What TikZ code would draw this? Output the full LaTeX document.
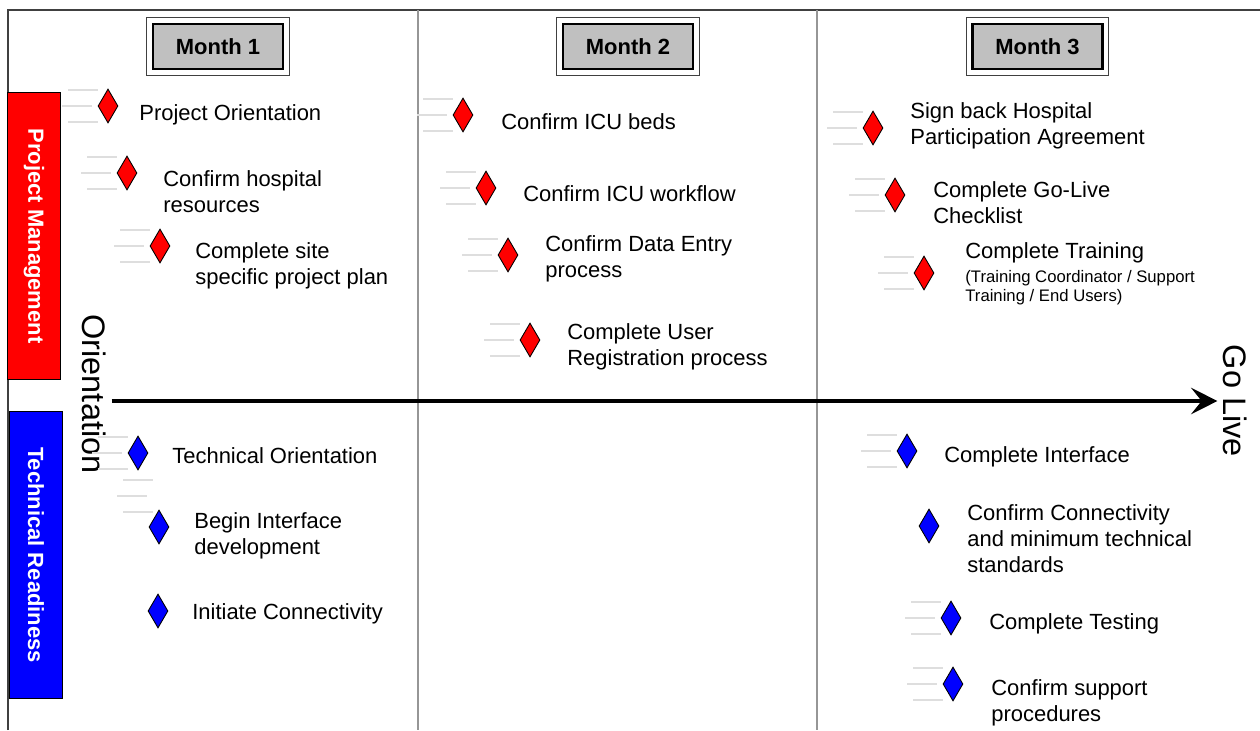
\documentclass[tikz,border=0pt]{standalone}
\usepackage{fontspec}
\setmainfont{Liberation Sans}
\usepackage{tikz}
\usetikzlibrary{arrows.meta,positioning,shapes.geometric}

\definecolor{monthgray}{RGB}{192,192,192}
\definecolor{pmred}{RGB}{255,0,0}
\definecolor{trblue}{RGB}{0,0,255}
\definecolor{framegray}{RGB}{64,64,64}
\definecolor{divgray}{RGB}{150,150,150}
\definecolor{ghostgray}{RGB}{222,222,222}

\begin{document}
\begin{tikzpicture}[x=0.02cm, y=-0.02cm,
  month/.style={
    draw, line width=1.6pt, fill=monthgray,
    minimum width=2.6cm, minimum height=0.9cm,
    font=\fontsize{12.5}{15}\selectfont\bfseries},
  lane/.style={
    draw, fill=#1, rotate=-90, text=white,
    minimum width=5.74cm, minimum height=1.06cm,
    font=\fontsize{12.5}{15}\selectfont\bfseries},
  ms/.style={
    diamond, draw, fill=#1, line width=0.5pt, inner sep=0pt,
    minimum width=0.4cm, minimum height=0.68cm},
  lbl/.style={anchor=west, align=left, inner sep=0pt, yshift=-1.6pt,
    font=\fontsize{12.5}{14.7}\selectfont},
  big/.style={rotate=-90, inner sep=3pt,
    font=\fontsize{18.5}{22}\selectfont},
  ghost/.style={draw=ghostgray, line width=0.6pt},
  axis/.style={-{Stealth[length=15pt, width=15pt, inset=6pt]},
    line width=2.2pt}]

\useasboundingbox[fill=white] (0,0) rectangle (1260,730);

% Frame and month columns
\draw[framegray, line width=1.2pt] (8,730) -- (8,10) -- (1260,10);
\foreach \x in {418,817}
  \draw[divgray, line width=1.2pt] (\x,10) -- (\x,730);

% Month headers
\node[month] (m1) at (218,46.5) {Month 1};
\node[month] (m2) at (628,46.5) {Month 2};
\node[month] (m3) at (1037.5,46.5) {Month 3};
\foreach \m in {m1,m2,m3}
  \draw[framegray, line width=0.6pt]
    ([shift={(-5,-5)}]\m.north west) rectangle ([shift={(5,5)}]\m.south east);

% Swim lanes
\node[lane=pmred]  (pm) at (34,236) {Project Management};
\node[lane=trblue] (tr) at (36,555) {Technical Readiness};

% Start and end of the time line
\node[big] (ori)  at (94,394)  {Orientation};
\node[big] (live) at (1235,401) {Go Live};
\draw[axis] (ori.north |- live.south) -- (live.south);

% Project management -- month 1
\node[ms=pmred] (d11) at (108,106) {};
\node[ms=pmred] (d12) at (127,173) {};
\node[ms=pmred] (d13) at (160,246) {};
\node[lbl] (l11) at (139,112) {Project Orientation};
\node[lbl] (l12) at (163,189) {Confirm hospital\\resources};
\node[lbl] (l13) at (195,263) {Complete site\\specific project plan};

% Project management -- month 2
\node[ms=pmred] (d21) at (463,115) {};
\node[ms=pmred] (d22) at (486,188) {};
\node[ms=pmred] (d23) at (508,255) {};
\node[ms=pmred] (d24) at (530,340) {};
\node[lbl] (l21) at (501,119) {Confirm ICU beds};
\node[lbl] (l22) at (523,191) {Confirm ICU workflow};
\node[lbl] (l23) at (545,256) {Confirm Data Entry\\process};
\node[lbl] (l24) at (567,344) {Complete User\\Registration process};

% Project management -- month 3
\node[ms=pmred] (d31) at (873,128) {};
\node[ms=pmred] (d32) at (895,195) {};
\node[ms=pmred] (d33) at (924,273) {};
\node[lbl] (l31) at (910,123) {Sign back Hospital\\Participation Agreement};
\node[lbl] (l32) at (933,200) {Complete Go-Live\\Checklist};
\node[lbl] (l33) at (965,271) {Complete Training\\[-1.1pt]
  \fontsize{9.5}{10.8}\selectfont (Training Coordinator / Support\\[-3.9pt]
  \fontsize{9.5}{10.8}\selectfont Training / End Users)};

% Technical readiness -- month 1
\node[ms=trblue] (e11) at (138,453) {};
\node[ms=trblue] (e12) at (159,527) {};
\node[ms=trblue] (e13) at (158,611) {};
\node[lbl] (k11) at (172,453) {Technical Orientation};
\node[lbl] (k12) at (194,533) {Begin Interface\\development};
\node[lbl] (k13) at (192,611) {Initiate Connectivity};

% Technical readiness -- month 3
\node[ms=trblue] (e31) at (907,451) {};
\node[ms=trblue] (e32) at (929,526) {};
\node[ms=trblue] (e33) at (951,618) {};
\node[ms=trblue] (e34) at (953,684) {};
\node[lbl] (k31) at (944,454) {Complete Interface};
\node[lbl] (k32) at (967,536) {Confirm Connectivity\\and minimum technical\\standards};
\node[lbl] (k33) at (989,621) {Complete Testing};
\node[lbl] (k34) at (991,700) {Confirm support\\procedures};

% Faint lines trailing the milestones
\coordinate (e12g) at (163,496);
\foreach \d in {d11,d12,d13,d21,d22,d23,d24,d31,d32,d33,e11,e12g,e31,e33,e34} {
  \draw[ghost] ([shift={(-40,-16)}]\d.center) -- ++(30,0);
  \draw[ghost] ([shift={(-46,0)}]\d.center) -- ++(30,0);
  \draw[ghost] ([shift={(-40,16)}]\d.center) -- ++(30,0);
}

\end{tikzpicture}
\end{document}
